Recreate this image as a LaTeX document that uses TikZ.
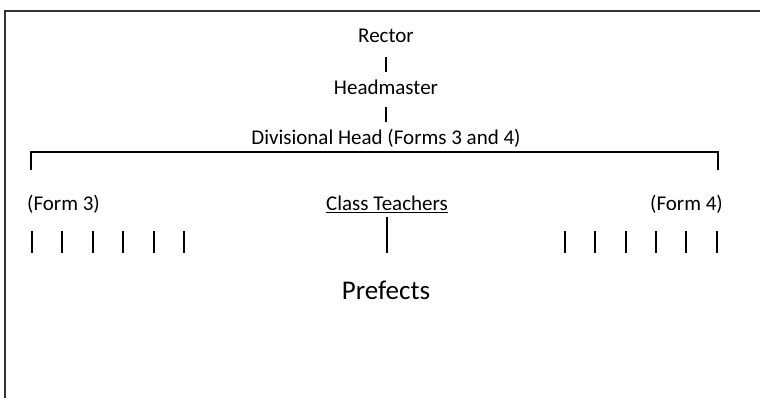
\documentclass[tikz,border=0pt]{standalone}
\usepackage{fontspec}
\setmainfont{Carlito}
\usetikzlibrary{positioning}
\begin{document}
\begin{tikzpicture}[x=1pt,y=-1pt]

            \tikzstyle{label} = [font=\fontsize{21}{25}\selectfont, inner sep=0pt];
            \tikzstyle{bigLabel} = [font=\fontsize{27}{31}\selectfont, inner sep=0pt];
            \tikzstyle{tick} = [line width=1.4pt];

            \useasboundingbox (0,0) rectangle (760,398);
            \draw[line width=2pt, black!80] (5,400) -- (5,11) -- (765,11);

            \node[label] (rector) at (386,36) {Rector};
            \node[label] (head) at (386,87) {Headmaster};
            \node[label] (div) at (386,138) {Divisional Head (Forms 3 and 4)};
            \node[label, anchor=west] (form3) at (27,204) {(Form 3)};
            \node[label, anchor=east] (form4) at (723,204) {(Form 4)};
            \node[label] (teachers) at (387,203) {Class Teachers};
            \node[bigLabel] (prefects) at (386,290) {Prefects};

            \coordinate (left) at (31,152);
            \coordinate (right) at (718,152);
            \coordinate (under) at (387,253);

            \draw[tick] (rector) ++(0,21) -- ++(0,15);
            \draw[tick] (head) ++(0,20) -- ++(0,15);
            \draw[tick] (left |- 0,170) -- (left) -- (right) -- (right |- 0,170);
            \draw[tick] (teachers.south west) ++(0,2) -- ([yshift=-2pt]teachers.south east);
            \draw[line width=2pt] ([yshift=-6pt]teachers.south) -- (under);

            \foreach \x in {32,62,93,123,154,184,565,595,626,656,686,717}
                \draw[tick] (\x,231) -- (\x,253);
          \end{tikzpicture}
\end{document}
